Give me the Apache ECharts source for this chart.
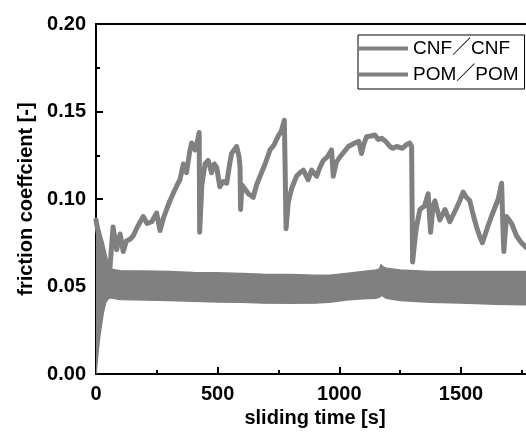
<!DOCTYPE html>
<html>
<head>
<meta charset="utf-8">
<script src="https://cdn.jsdelivr.net/npm/echarts@6/dist/echarts.min.js"></script>
<style>
  html, body { margin: 0; padding: 0; background: #fff; }
  #chart { width: 526px; height: 436px; }
</style>
</head>
<body>
<div id="chart"></div>
<script>
// CNF/CNF friction curve
const cnfTime = [0, 10, 25, 45, 57, 70, 85, 99, 112, 125, 140, 153, 170, 194, 210, 229, 249, 263, 277, 290,
  304, 320, 337, 345, 359, 372, 385, 393, 407, 418, 424, 426, 435, 448, 461, 475, 486, 496, 509, 523,
  537, 547, 557, 578, 588, 592, 594, 600, 605, 626, 646, 660, 674, 695, 715, 732, 749, 762, 774, 777,
  781, 790, 804, 824, 838, 852, 872, 886, 907, 920, 934, 950, 968, 975, 988, 1002, 1020, 1037, 1064, 1080,
  1091, 1100, 1112, 1130, 1146, 1160, 1174, 1190, 1208, 1220, 1235, 1260, 1275, 1289, 1297, 1301, 1310, 1317, 1331, 1350,
  1365, 1375, 1385, 1393, 1413, 1434, 1454, 1468, 1482, 1495, 1509, 1522, 1536, 1550, 1564, 1576, 1588, 1600, 1612, 1625,
  1639, 1653, 1667, 1672, 1676, 1687, 1708, 1728, 1748, 1770, 1800];
const cnfValue = [0.088, 0.080, 0.070, 0.062, 0.060, 0.084, 0.071, 0.080, 0.070, 0.076, 0.077, 0.079, 0.084, 0.090, 0.086, 0.087, 0.092, 0.082, 0.089, 0.094,
  0.099, 0.104, 0.109, 0.111, 0.120, 0.115, 0.127, 0.132, 0.128, 0.134, 0.138, 0.081, 0.108, 0.120, 0.122, 0.115, 0.120, 0.118, 0.107, 0.110,
  0.109, 0.118, 0.126, 0.130, 0.124, 0.118, 0.094, 0.108, 0.109, 0.103, 0.101, 0.108, 0.113, 0.120, 0.128, 0.131, 0.136, 0.139, 0.145, 0.120,
  0.083, 0.098, 0.106, 0.113, 0.115, 0.1165, 0.111, 0.1165, 0.113, 0.118, 0.122, 0.124, 0.128, 0.113, 0.121, 0.124, 0.127, 0.130, 0.132, 0.133,
  0.126, 0.131, 0.1356, 0.136, 0.1366, 0.134, 0.1347, 0.133, 0.130, 0.129, 0.130, 0.129, 0.131, 0.132, 0.130, 0.064, 0.076, 0.084, 0.094, 0.096,
  0.103, 0.081, 0.096, 0.099, 0.088, 0.094, 0.087, 0.091, 0.095, 0.099, 0.104, 0.101, 0.099, 0.091, 0.084, 0.079, 0.075, 0.080, 0.085, 0.090,
  0.095, 0.100, 0.109, 0.085, 0.070, 0.090, 0.086, 0.079, 0.075, 0.072, 0.070];

// POM/POM: the dense oscillation shows as a band, kept as upper / lower envelope
const pomTime = [0, 3, 8, 16, 30, 40, 50, 60, 80, 100, 200, 300, 400, 500, 600, 686, 800, 900, 960, 1028,
  1097, 1150, 1165, 1171, 1180, 1193, 1250, 1371, 1500, 1643, 1800];
const pomUpper = [0.088, 0.087, 0.085, 0.082, 0.075, 0.069, 0.063, 0.060, 0.0595, 0.059, 0.0588, 0.0586, 0.058, 0.0578, 0.0575, 0.057, 0.0568, 0.0565, 0.0565, 0.0575,
  0.0586, 0.0595, 0.060, 0.0624, 0.0612, 0.0605, 0.0595, 0.0586, 0.0586, 0.0586, 0.0586];
const pomLower = [0.0, 0.004, 0.012, 0.022, 0.035, 0.041, 0.043, 0.0435, 0.043, 0.0425, 0.0423, 0.042, 0.0416, 0.0412, 0.041, 0.0405, 0.0404, 0.0405, 0.041, 0.0423,
  0.043, 0.0433, 0.044, 0.0448, 0.0445, 0.0433, 0.042, 0.041, 0.0405, 0.0399, 0.0395];

const seriesNames = ['CNF／CNF', 'POM／POM'];
const xTicks = [0, 500, 1000, 1500];
const yTicks = [0.00, 0.05, 0.10, 0.15, 0.20];

const gray = '#808080';
const fontFam = "'Liberation Sans', Arial, 'Noto Sans CJK SC', sans-serif";

const chart = echarts.init(document.getElementById('chart'), null, { renderer: 'canvas' });

const option = {
  animation: false,
  backgroundColor: '#fff',
  grid: {
    left: 96, top: 24, right: -8, bottom: 62,
    outerBoundsMode: 'none',
    containLabel: false,
    show: true, borderColor: '#000', borderWidth: 2
  },
  legend: {
    orient: 'vertical',
    left: 358, top: 35,
    padding: [4, 6, 5, 0],
    itemGap: 7,
    itemWidth: 50, itemHeight: 4,
    borderColor: '#000', borderWidth: 1,
    textStyle: { fontFamily: fontFam, fontSize: 19, color: '#000' },
    data: [
      { name: seriesNames[0], icon: 'rect' },
      { name: seriesNames[1], icon: 'rect' }
    ]
  },
  xAxis: [
    {
      type: 'value', min: 0, max: 1800, interval: 500, position: 'bottom',
      name: 'sliding time [s]', nameLocation: 'middle', nameGap: 28,
      nameTextStyle: { fontFamily: fontFam, fontWeight: 'bold', fontSize: 20, color: '#000' },
      axisLine: { show: true, lineStyle: { color: '#000', width: 2 } },
      axisTick: { show: true, inside: true, length: 7, lineStyle: { color: '#000', width: 2 } },
      axisLabel: {
        show: true, margin: 10, showMaxLabel: false,
        fontFamily: fontFam, fontWeight: 'bold', fontSize: 20, color: '#000',
        formatter: v => xTicks.indexOf(v) >= 0 ? String(v) : ''
      },
      splitLine: { show: false }
    },
    {
      // minor ticks
      type: 'value', min: 0, max: 1800, interval: 250, position: 'bottom',
      axisLine: { show: false },
      axisTick: { show: true, inside: true, length: 4, lineStyle: { color: '#000', width: 2 } },
      axisLabel: { show: false },
      splitLine: { show: false }
    }
  ],
  yAxis: [
    {
      type: 'value', min: 0, max: 0.2, interval: 0.05, position: 'left',
      name: 'friction coeffcient [-]', nameLocation: 'middle', nameGap: 60,
      nameTextStyle: { fontFamily: fontFam, fontWeight: 'bold', fontSize: 20, color: '#000' },
      axisLine: { show: true, lineStyle: { color: '#000', width: 2 } },
      axisTick: { show: true, inside: true, length: 7, lineStyle: { color: '#000', width: 2 } },
      axisLabel: {
        show: true, margin: 10,
        fontFamily: fontFam, fontWeight: 'bold', fontSize: 20, color: '#000',
        formatter: v => {
          const hit = yTicks.find(t => Math.abs(t - v) < 1e-9);
          return hit === undefined ? '' : hit.toFixed(2);
        }
      },
      splitLine: { show: false }
    },
    {
      // minor ticks
      type: 'value', min: 0, max: 0.2, interval: 0.025, position: 'left',
      axisLine: { show: false },
      axisTick: { show: true, inside: true, length: 4, lineStyle: { color: '#000', width: 2 } },
      axisLabel: { show: false },
      splitLine: { show: false }
    }
  ],
  series: [
    {
      name: seriesNames[1],
      type: 'custom',
      xAxisIndex: 0, yAxisIndex: 0,
      itemStyle: { color: gray },
      data: pomTime.map((t, i) => [t, pomUpper[i], pomLower[i]]),
      encode: { x: 0, y: [1, 2] },
      clip: true,
      renderItem: function (params, api) {
        if (params.dataIndex !== 0) return null;
        const pts = [];
        for (let i = 0; i < pomTime.length; i++) pts.push(api.coord([pomTime[i], pomUpper[i]]));
        for (let i = pomTime.length - 1; i >= 0; i--) pts.push(api.coord([pomTime[i], pomLower[i]]));
        return {
          type: 'polygon',
          shape: { points: pts },
          style: { fill: gray, stroke: gray, lineWidth: 1.5 }
        };
      }
    },
    {
      name: seriesNames[0],
      type: 'line',
      xAxisIndex: 0, yAxisIndex: 0,
      showSymbol: false,
      color: gray,
      lineStyle: { color: gray, width: 5, join: 'round', cap: 'round' },
      data: cnfTime.map((t, i) => [t, cnfValue[i]])
    }
  ]
};

chart.setOption(option);
</script>
</body>
</html>
